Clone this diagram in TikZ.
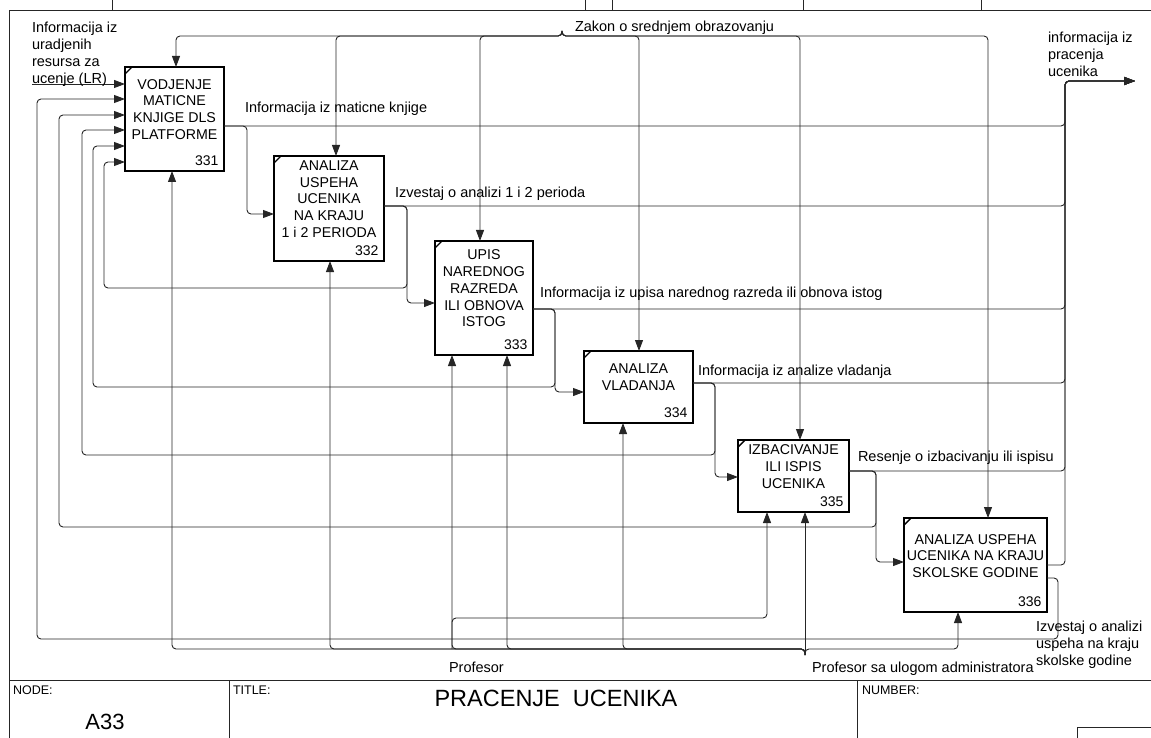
\documentclass[tikz,border=0pt]{standalone}
\usepackage{fontspec}
\setmainfont{Liberation Sans}
\usetikzlibrary{arrows.meta}
\begin{document}
\begin{tikzpicture}[x=1pt,y=-1pt,
  every node/.style={inner sep=0pt,outer sep=0pt},
  rule/.style={line width=0.9pt,draw=black!85},
  func/.style={draw=black,line width=1.9pt,rectangle},
  fname/.style={align=center,font=\fontsize{14.2}{16.8}\selectfont},
  fnum/.style={anchor=base east,font=\fontsize{14}{16}\selectfont},
  tag/.style={anchor=base west,align=left,font=\fontsize{14.5}{17}\selectfont},
  flow/.style={draw=black!85,line width=0.9pt,rounded corners=4pt},
  into/.style={flow,-{Triangle[length=11pt,width=8pt]}},
  corner/.style={draw=black,line width=1.4pt},
  small/.style={anchor=base west,font=\fontsize{12.5}{14}\selectfont}
]
\useasboundingbox (0,0) rectangle (1151,738);

% drawing frame and title block
\draw[rule] (9,738) -- (9,10) -- (1151,10);
\foreach \x in {112,585,612,803,981} \draw[rule] (\x,0) -- (\x,10);
\draw[rule] (9,680) -- (1151,680);
\draw[rule] (229,680) -- (229,738);
\draw[rule] (857,680) -- (857,738);
\draw[rule] (1077,738) -- (1077,727) -- (1151,727);
\node[small] (nodelbl) at (13,694) {NODE:};
\node[small] (titlelbl) at (233,694) {TITLE:};
\node[small] (numlbl) at (862,694) {NUMBER:};
\node[anchor=base,font=\fontsize{22}{24}\selectfont] (nodeid) at (105,729) {A33};
\node[anchor=base,font=\fontsize{23.5}{26}\selectfont] (title) at (556,706) {PRACENJE~~UCENIKA};

% activity boxes
\node[func,minimum width=99pt,minimum height=104pt] (b331) at (174.5,119) {};
\node[func,minimum width=110pt,minimum height=105pt] (b332) at (329,208.5) {};
\node[func,minimum width=98pt,minimum height=114pt] (b333) at (484,298) {};
\node[func,minimum width=109pt,minimum height=72pt] (b334) at (638.5,387) {};
\node[func,minimum width=111pt,minimum height=72pt] (b335) at (793.5,476) {};
\node[func,minimum width=143pt,minimum height=94pt] (b336) at (975.5,565) {};

\node[fname] (t331) at ([yshift=9.5pt]b331.center) {VODJENJE\\MATICNE\\KNJIGE DLS\\PLATFORME};
\node[fname] (t332) at ([yshift=9.5pt]b332.center) {ANALIZA\\USPEHA\\UCENIKA\\NA KRAJU\\1 i 2 PERIODA};
\node[fname] (t333) at ([yshift=9.5pt]b333.center) {UPIS\\NAREDNOG\\RAZREDA\\ILI OBNOVA\\ISTOG};
\node[fname] (t334) at ([yshift=9.5pt]b334.center) {ANALIZA\\VLADANJA};
\node[fname] (t335) at ([yshift=9.5pt]b335.center) {IZBACIVANJE\\ILI ISPIS\\UCENIKA};
\node[fname] (t336) at ([yshift=9pt]b336.center) {ANALIZA USPEHA\\UCENIKA NA KRAJU\\SKOLSKE GODINE};

\foreach \b in {331,332,333,334,335,336}{
  \node[fnum] (n\b) at ([xshift=-5.5pt,yshift=5.5pt]b\b.south east) {\b};
  \draw[corner] ([yshift=-7pt]b\b.north west) -- ([xshift=7pt]b\b.north west);
}

% input from outside
\coordinate (src) at (32,84);
\draw[into] (src) -- (b331.west |- src);

% controls
\coordinate (law) at (562,31);
\foreach \b/\x in {b331/176,b332/336,b333/480,b334/639,b335/800,b336/988}
  \draw[into] (law) -- (562,36) -- (\x,36) -- (\b.north -| \x,0);

% outputs to the outer boundary
\coordinate (tip) at (1135,81);
\foreach \b/\y in {b331/126,b332/206,b333/309,b334/383,b335/471,b336/565}
  \draw[into] (\b.east |- 0,\y) -- (1065,\y) -- (1065,81) -- (tip);

% outputs feeding the next activity
\draw[into] (b331.east |- 0,126) -- (247,126) -- (247,214) -- (b332.west |- 0,214);
\draw[into] (b332.east |- 0,206) -- (407,206) -- (407,303) -- (b333.west |- 0,303);
\draw[into] (b333.east |- 0,309) -- (555,309) -- (555,392) -- (b334.west |- 0,392);
\draw[into] (b334.east |- 0,383) -- (715,383) -- (715,477) -- (b335.west |- 0,477);
\draw[into] (b335.east |- 0,471) -- (876,471) -- (876,562) -- (b336.west |- 0,562);

% feedback to the first activity
\draw[into] (b332.east |- 0,206) -- (407,206) -- (407,288) -- (104,288) -- (104,162) -- (b331.west |- 0,162);
\draw[into] (b333.east |- 0,309) -- (555,309) -- (555,387) -- (93,387) -- (93,146) -- (b331.west |- 0,146);
\draw[into] (b334.east |- 0,383) -- (715,383) -- (715,455) -- (82,455) -- (82,130) -- (b331.west |- 0,130);
\draw[into] (b335.east |- 0,471) -- (876,471) -- (876,527) -- (59,527) -- (59,115) -- (b331.west |- 0,115);
\draw[into] (b336.east |- 0,578) -- (1058,578) -- (1058,639) -- (37,639) -- (37,99) -- (b331.west |- 0,99);

% mechanisms
\coordinate (staff) at (805,655);
\draw[into] (staff) -- (b335.south -| 805,0);
\foreach \b/\x in {b336/958,b334/623,b333/507,b333/452,b332/330,b331/172}
  \draw[into] (staff) -- (805,649) -- (\x,649) -- (\b.south -| \x,0);
\draw[into] (452,649) -- (452,618) -- (767,618) -- (b335.south -| 767,0);

% arrow labels (multi-line ones are placed by their last baseline)
\node[tag] (lr) at (32,84) {Informacija iz\\uradjenih\\resursa za\\ucenje (LR)};
\node[tag] (l331) at (245,113) {Informacija iz maticne knjige};
\node[tag] (l332) at (395,198) {Izvestaj o analizi 1 i 2 perioda};
\node[tag] (l333) at (540,297) {Informacija iz upisa narednog razreda ili obnova istog};
\node[tag] (l334) at (698,375) {Informacija iz analize vladanja};
\node[tag] (l335) at (858,461) {Resenje o izbacivanju ili ispisu};
\node[tag] (llaw) at (575,32) {Zakon o srednjem obrazovanju};
\node[tag] (lout) at (1048,77) {informacija iz\\pracenja\\ucenika};
\node[tag] (l336) at (1036,665) {Izvestaj o analizi\\uspeha na kraju\\skolske godine};
\node[tag] (lprof) at (449,672) {Profesor};
\node[tag] (ladmin) at (812,672) {Profesor sa ulogom administratora};
\end{tikzpicture}
\end{document}
